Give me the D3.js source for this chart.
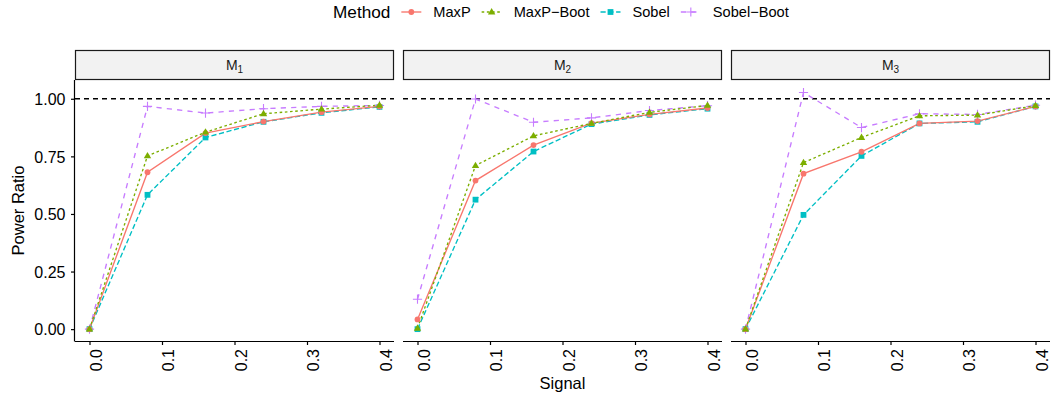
<!DOCTYPE html>
<html>
<head>
<meta charset="utf-8">
<script src="https://cdn.jsdelivr.net/npm/d3@7"></script>
<style>
  html, body { margin: 0; padding: 0; background: #ffffff; }
  svg { display: block; font-family: "Liberation Sans", Arial, sans-serif; }
</style>
</head>
<body>
<svg id="chart" width="1053" height="402"></svg>
<script>
// ---------------- data ----------------
const panels = ["M1", "M2", "M3"];
const signal = [0, 0.08, 0.16, 0.24, 0.32, 0.40];
const methods = ["MaxP", "MaxP-Boot", "Sobel", "Sobel-Boot"];
const methodLabels = ["MaxP", "MaxP\u2212Boot", "Sobel", "Sobel\u2212Boot"];
const xTicks = [0.0, 0.1, 0.2, 0.3, 0.4];
const xTickLabels = ["0.0", "0.1", "0.2", "0.3", "0.4"];
const yTicks = [0, 0.25, 0.5, 0.75, 1.0];
const yTickLabels = ["0.00", "0.25", "0.50", "0.75", "1.00"];

// M1
const maxp1      = [0.000, 0.681, 0.851, 0.901, 0.942, 0.967];
const maxpBoot1  = [0.000, 0.752, 0.855, 0.935, 0.955, 0.972];
const sobel1     = [0.000, 0.583, 0.832, 0.900, 0.939, 0.965];
const sobelBoot1 = [0.000, 0.967, 0.938, 0.957, 0.967, 0.971];
// M2
const maxp2      = [0.042, 0.645, 0.799, 0.894, 0.932, 0.960];
const maxpBoot2  = [0.004, 0.710, 0.839, 0.893, 0.941, 0.971];
const sobel2     = [0.000, 0.562, 0.771, 0.890, 0.930, 0.957];
const sobelBoot2 = [0.130, 0.999, 0.898, 0.917, 0.949, 0.970];
// M3
const maxp3      = [0.000, 0.675, 0.770, 0.893, 0.903, 0.967];
const maxpBoot3  = [0.000, 0.723, 0.832, 0.926, 0.929, 0.970];
const sobel3     = [0.000, 0.496, 0.752, 0.893, 0.900, 0.967];
const sobelBoot3 = [0.000, 1.027, 0.875, 0.935, 0.932, 0.972];

const seriesByPanel = {
  M1: [maxp1, maxpBoot1, sobel1, sobelBoot1],
  M2: [maxp2, maxpBoot2, sobel2, sobelBoot2],
  M3: [maxp3, maxpBoot3, sobel3, sobelBoot3]
};

// ---------------- styles ----------------
const colors = ["#F8766D", "#7CAE00", "#00BFC4", "#C77CFF"];
const dashes = [null, "2.6,2.6", "5.2,2.6", "5.2,5.2"];
const lineW = 1.35;

const svg = d3.select("#chart");

const px = d3.scaleBand().domain(panels).range([75, 1050]).paddingInner(9 / 328);
const pw = px.bandwidth();
const x = d3.scaleLinear().domain([-0.02, 0.42]).range([0, pw]);
const y = d3.scaleLinear().domain([-0.0515, 1.0815]).range([341, 80]);

const stripTop = 50.5, stripBottom = 80;

function drawShape(g, m, cx, cy, col) {
  if (m === "MaxP") {
    g.append("circle").attr("cx", cx).attr("cy", cy).attr("r", 2.9).attr("fill", col);
  } else if (m === "MaxP-Boot") {
    const s = 3.9;
    g.append("path")
      .attr("d", `M${cx},${cy - s} L${cx + s * 0.95},${cy + s * 0.62} L${cx - s * 0.95},${cy + s * 0.62} Z`)
      .attr("fill", col);
  } else if (m === "Sobel") {
    g.append("rect").attr("x", cx - 2.9).attr("y", cy - 2.9).attr("width", 5.8).attr("height", 5.8).attr("fill", col);
  } else {
    const s = 4.6;
    g.append("path")
      .attr("d", `M${cx - s},${cy} L${cx + s},${cy} M${cx},${cy - s} L${cx},${cy + s}`)
      .attr("stroke", col).attr("stroke-width", 1.1).attr("fill", "none");
  }
}

const drawOrder = [3, 2, 0, 1];

panels.forEach((p, pi) => {
  const x0 = px(p);
  const g = svg.append("g").attr("transform", `translate(${x0},0)`);

  // strip
  g.append("rect")
    .attr("x", 0.5).attr("y", stripTop)
    .attr("width", pw - 1).attr("height", stripBottom - stripTop - 0.5)
    .attr("fill", "#F2F2F2").attr("stroke", "#1a1a1a").attr("stroke-width", 1.2);
  const st = g.append("text")
    .attr("x", pw / 2).attr("y", (stripTop + stripBottom) / 2 + 5)
    .attr("text-anchor", "middle").attr("font-size", 14).attr("fill", "#1a1a1a");
  st.append("tspan").text("M");
  st.append("tspan").attr("font-size", 10).attr("dy", 3).text(p.slice(1));

  // reference line at 1
  g.append("line")
    .attr("x1", 0).attr("x2", pw)
    .attr("y1", y(1)).attr("y2", y(1))
    .attr("stroke", "#000").attr("stroke-width", 1.3).attr("stroke-dasharray", "5,4");

  // lines
  const line = d3.line().x((d, i) => x(signal[i])).y(d => y(d));
  drawOrder.forEach(k => {
    const vals = seriesByPanel[p][k];
    const path = g.append("path").datum(vals)
      .attr("d", line)
      .attr("fill", "none")
      .attr("stroke", colors[k])
      .attr("stroke-width", lineW);
    if (dashes[k]) path.attr("stroke-dasharray", dashes[k]);
  });
  // points
  drawOrder.forEach(k => {
    const vals = seriesByPanel[p][k];
    vals.forEach((v, i) => drawShape(g, methods[k], x(signal[i]), y(v), colors[k]));
  });

  // x axis
  const xa = g.append("g").attr("transform", "translate(0,341)")
    .call(d3.axisBottom(x).tickValues(xTicks).tickSize(4).tickFormat((d, i) => xTickLabels[i]));
  xa.select(".domain").attr("stroke", "#000").attr("stroke-width", 1.2).attr("d", `M0,0.5H${pw}`);
  xa.selectAll(".tick line").attr("stroke", "#000").attr("stroke-width", 1.2);
  xa.selectAll(".tick text")
    .attr("font-size", 16).attr("fill", "#000")
    .attr("text-anchor", "end")
    .attr("transform", "rotate(-90)")
    .attr("x", -8).attr("y", 0).attr("dy", "0.74em");

  // y axis (first panel only)
  if (pi === 0) {
    const ya = g.append("g")
      .call(d3.axisLeft(y).tickValues(yTicks).tickSize(4).tickFormat((d, i) => yTickLabels[i]));
    ya.select(".domain").attr("stroke", "#000").attr("stroke-width", 1.2).attr("d", `M-0.5,80V341.5`);
    ya.selectAll(".tick line").attr("stroke", "#000").attr("stroke-width", 1.2);
    ya.selectAll(".tick text")
      .attr("font-size", 16).attr("fill", "#000").attr("x", -9.5).attr("dy", "0.36em");
  }
});

// axis titles
svg.append("text")
  .attr("x", (75 + 1050) / 2).attr("y", 389)
  .attr("text-anchor", "middle").attr("font-size", 16.5).attr("fill", "#000")
  .text("Signal");
svg.append("text")
  .attr("transform", `translate(24,${(80 + 341) / 2}) rotate(-90)`)
  .attr("text-anchor", "middle").attr("font-size", 16.5).attr("fill", "#000")
  .text("Power Ratio");

// legend
const lg = svg.append("g");
let cx = 333;
const ly = 12;
const title = lg.append("text").attr("x", cx).attr("y", ly + 6)
  .attr("font-size", 17.2).attr("fill", "#000").text("Method");
cx += title.node().getComputedTextLength() + 11;
methods.forEach((m, k) => {
  const key = lg.append("g");
  const l = key.append("line").attr("x1", cx).attr("x2", cx + 20).attr("y1", ly).attr("y2", ly)
    .attr("stroke", colors[k]).attr("stroke-width", lineW);
  if (dashes[k]) l.attr("stroke-dasharray", dashes[k]);
  drawShape(key, m, cx + 10, ly, colors[k]);
  cx += 20 + 12;
  const t = lg.append("text").attr("x", cx).attr("y", ly + 5)
    .attr("font-size", 14.6).attr("fill", "#000").text(methodLabels[k]);
  cx += t.node().getComputedTextLength() + 11;
});
</script>
</body>
</html>
